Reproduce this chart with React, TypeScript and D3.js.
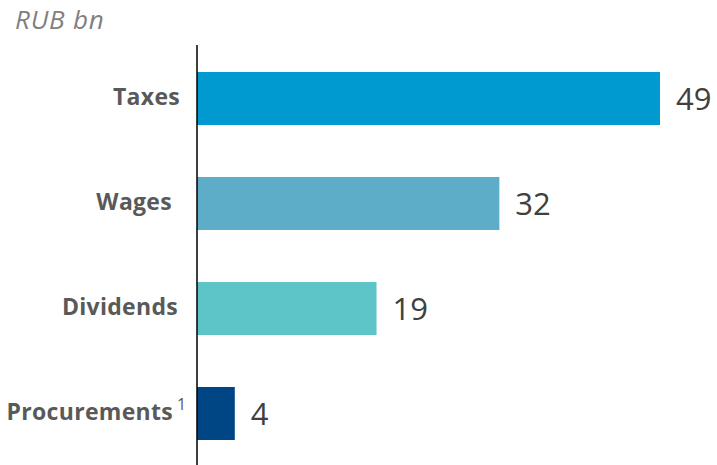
import React from "react";
import * as d3 from "d3";

const categories = ["Taxes", "Wages", "Dividends", "Procurements"];
const values = [49, 32, 19, 4];
const colors = ["#009AD0", "#5EADC8", "#5DC5C8", "#004684"];
const unitLabel = "RUB bn";

export default function App() {
  const W = 717, H = 465;
  const x = d3.scaleLinear().domain([0, 49]).range([197, 660]);
  const y = d3.scaleBand<string>().domain(categories).range([46, 466]).paddingInner(0.495).paddingOuter(0.2475);
  const labelEnd = [180, 172, 178, 173];
  return (
    <svg width={W} height={H} style={{ position: "absolute", left: 0, top: 0 }}>
      <text x={15} y={29} fontFamily="Open Sans, sans-serif" fontStyle="italic" fontSize={26} letterSpacing={0.8} fill="#7F7F7F">{unitLabel}</text>
      {categories.map((c, i) => (
        <g key={c}>
          <rect x={x(0)} y={y(c)} width={x(values[i]) - x(0)} height={y.bandwidth()} fill={colors[i]} />
          <text x={x(values[i]) + 16} y={(y(c) as number) + y.bandwidth() / 2} dy="0.36em" fontFamily="Open Sans, sans-serif" fontSize={31} fill="#404040">{values[i]}</text>
          <text x={labelEnd[i]} y={(y(c) as number) + y.bandwidth() / 2} dy="0.3em" textAnchor="end" fontFamily="Open Sans, sans-serif" fontWeight="bold" fontSize={23} letterSpacing={0.3} fill="#595959">{c}</text>
          {i === 3 && (
            <text x={177} y={(y(c) as number) + y.bandwidth() / 2 - 4} textAnchor="start" fontFamily="Open Sans, sans-serif" fontSize={16} fill="#595959">1</text>
          )}
        </g>
      ))}
      <line x1={x(0)} x2={x(0)} y1={45} y2={H} stroke="#000" strokeWidth={1.5} />
    </svg>
  );
}
